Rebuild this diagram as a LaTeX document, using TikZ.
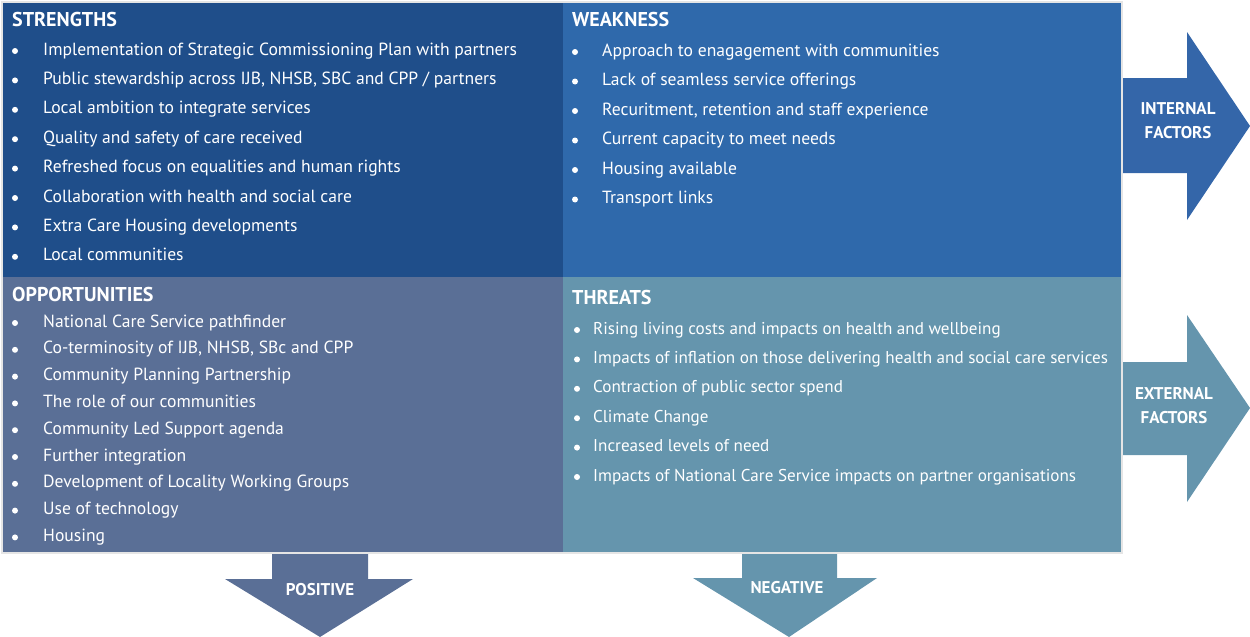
\documentclass[tikz,border=0pt]{standalone}
\usepackage{fontspec}
\setmainfont{PT Sans}
\usetikzlibrary{calc}

\definecolor{strcol}{HTML}{1F4E8A}
\definecolor{weakcol}{HTML}{2F69AB}
\definecolor{oppcol}{HTML}{5A6F96}
\definecolor{thrcol}{HTML}{6595AD}
\definecolor{intcol}{HTML}{3466A9}

\tikzset{
  head/.style={anchor=base west, inner sep=0pt, text=white, font=\fontsize{20}{22}\selectfont\bfseries},
  item/.style={anchor=base west, inner sep=0pt, text=white, font=\fontsize{17.6}{20}\selectfont},
  smallitem/.style={item, font=\fontsize{17.1}{20}\selectfont},
  tag/.style={align=center, inner sep=0pt, text=white, font=\fontsize{17}{24}\selectfont\bfseries},
  dot/.style={fill=white}
}

\begin{document}
\begin{tikzpicture}[x=1pt, y=-1pt]

    % 1. Page frame
    \useasboundingbox (0,0) rectangle (1250,637);
    \def\midx{563}
    \def\midy{277}

    % 2. Arrows behind the grid
    \fill[intcol] (1110,78) -- (1187,78) -- (1187,32) -- (1250,126)
        -- (1187,220) -- (1187,173) -- (1110,173) -- cycle;
    \fill[thrcol] (1110,362) -- (1187,362) -- (1187,315) -- (1250,408)
        -- (1187,502) -- (1187,455) -- (1110,455) -- cycle;
    \fill[oppcol] (272,540) -- (272,579) -- (225,579) -- (320,637)
        -- (413,579) -- (368,579) -- (368,540) -- cycle;
    \fill[thrcol] (742,540) -- (742,578) -- (693,578) -- (789,637)
        -- (877,578) -- (837,578) -- (837,540) -- cycle;

    % 3. The four quadrants
    \fill[strcol] (3,3) rectangle (\midx,\midy);
    \fill[weakcol] (\midx,3) rectangle (1122,\midy);
    \fill[oppcol] (3,\midy) rectangle (\midx,553);
    \fill[thrcol] (\midx,\midy) rectangle (1122,553);
    \draw[black!10, line width=1.5] (2,2) rectangle (1122,553);

    % 4. Headings
    \node[head] (strengths) at (12,27) {STRENGTHS};
    \node[head] (weakness) at (572,27) {WEAKNESS};
    \node[head] (opportunities) at (12,301) {OPPORTUNITIES};
    \node[head] (threats) at (572,304) {THREATS};

    % 5. Strengths list
    \foreach \t [count=\i] in {Implementation of Strategic Commissioning Plan with partners,
        {Public stewardship across IJB, NHSB, SBC and CPP / partners},
        Local ambition to integrate services,
        Quality and safety of care received,
        Refreshed focus on equalities and human rights,
        Collaboration with health and social care,
        Extra Care Housing developments,
        Local communities} {
      \fill[dot] (15,{49+29.4*(\i-1)+2}) circle (3);
      \node[item] (s\i) at (43,{49+29.4*(\i-1)+6}) {\t};
    }

    % 6. Weakness list
    \foreach \t [count=\i] in {Approach to enagagement with communities,
        Lack of seamless service offerings,
        {Recuritment, retention and staff experience},
        Current capacity to meet needs,
        Housing available,
        Transport links} {
      \fill[dot] (575,{50+29.5*(\i-1)+2}) circle (3);
      \node[item] (w\i) at (602,{50+29.5*(\i-1)+6}) {\t};
    }

    % 7. Opportunities list
    \foreach \t [count=\i] in {National Care Service pathfinder,
        {Co-terminosity of IJB, NHSB, SBc and CPP},
        Community Planning Partnership,
        The role of our communities,
        Community Led Support agenda,
        Further integration,
        Development of Locality Working Groups,
        Use of technology,
        Housing} {
      \fill[dot] (15,{321+26.8*(\i-1)+2}) circle (3);
      \node[item] (o\i) at (43,{321+26.8*(\i-1)+6}) {\t};
    }

    % 8. Threats list
    \foreach \t [count=\i] in {Rising living costs and impacts on health and wellbeing,
        Impacts of inflation on those delivering health and social care services,
        Contraction of public sector spend,
        Climate Change,
        Increased levels of need,
        Impacts of National Care Service impacts on partner organisations} {
      \fill[dot] (577,{328+29.4*(\i-1)+2}) circle (3);
      \node[smallitem] (t\i) at (593,{328+29.4*(\i-1)+6}) {\t};
    }

    % 9. Arrow labels
    \node[tag] (internal) at (1178,121) {INTERNAL\\FACTORS};
    \node[tag] (external) at (1174,406) {EXTERNAL\\FACTORS};
    \node[tag] (positive) at (320,590) {POSITIVE};
    \node[tag] (negative) at (787,588) {NEGATIVE};

\end{tikzpicture}
\end{document}
